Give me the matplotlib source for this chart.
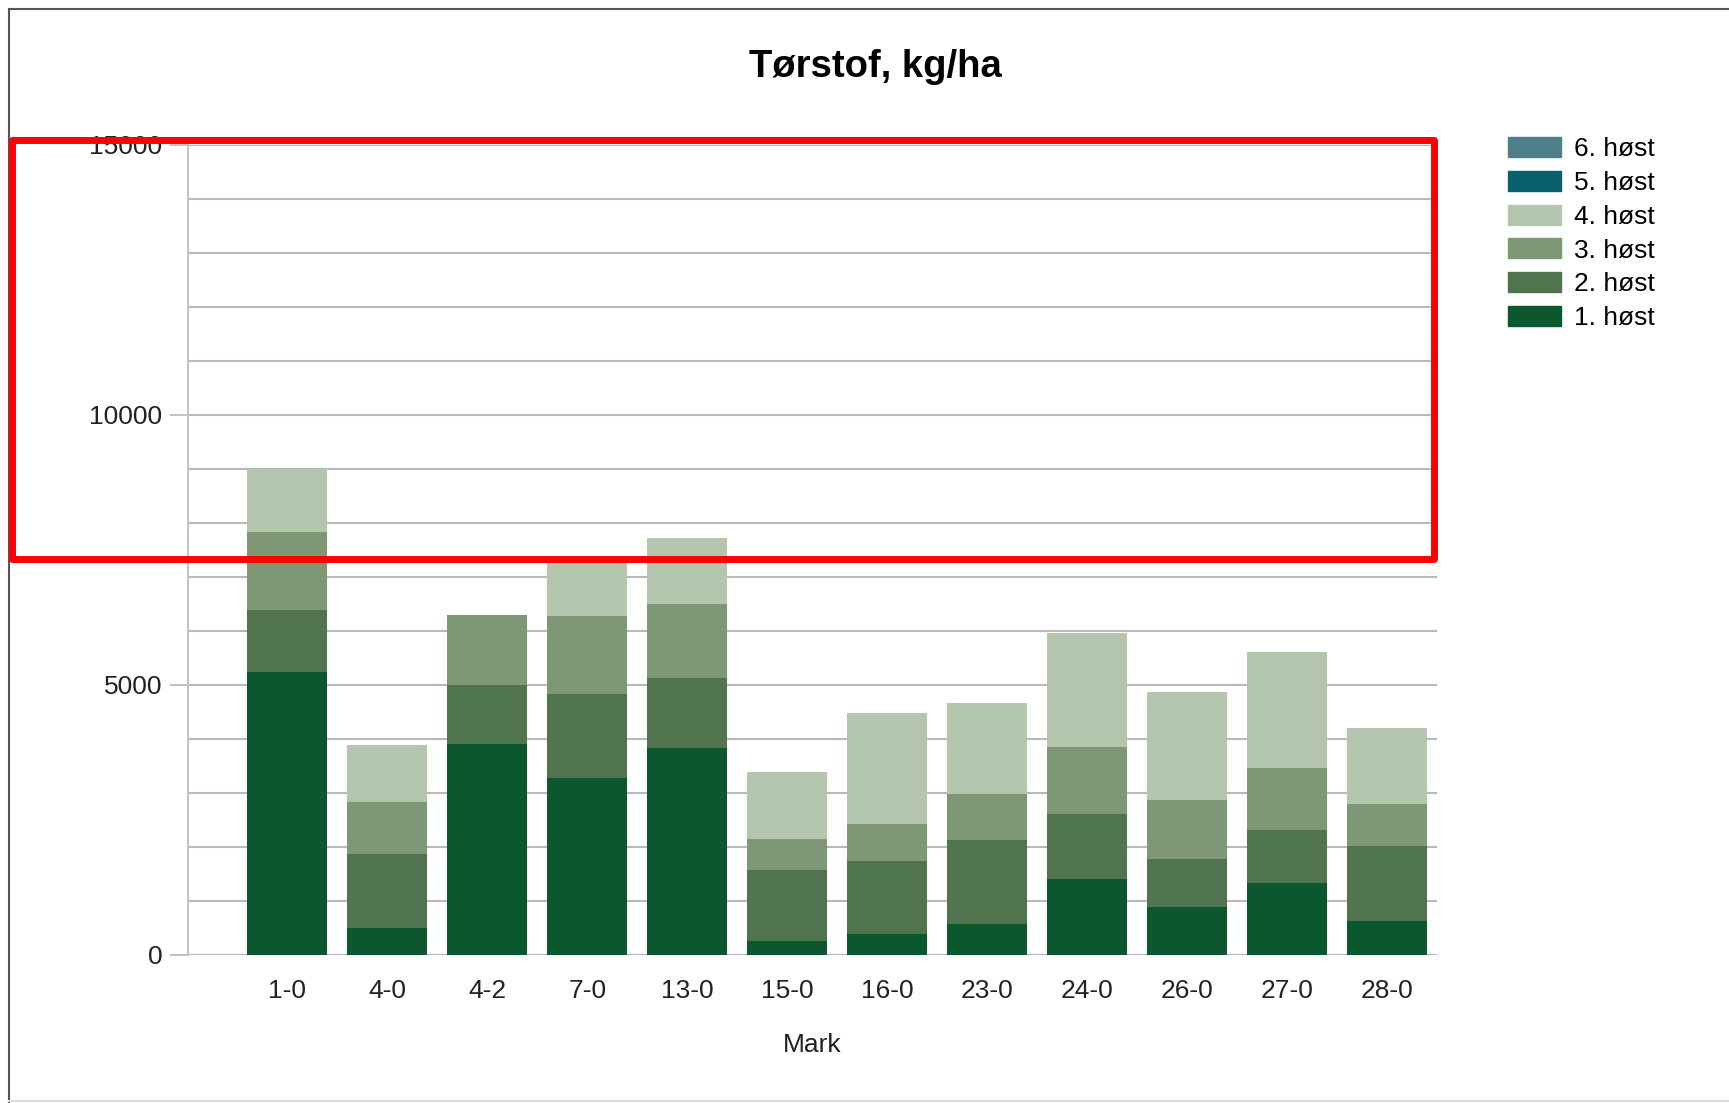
import matplotlib.pyplot as plt
from matplotlib.patches import Rectangle, Patch
from matplotlib.lines import Line2D

plt.rcParams['font.family'] = ['Liberation Sans', 'DejaVu Sans']

# Data (kg/ha per harvest)
marker = ['1-0', '4-0', '4-2', '7-0', '13-0', '15-0', '16-0', '23-0', '24-0', '26-0', '27-0', '28-0']
host1 = [5240, 500, 3905, 3280, 3830, 255, 390, 580, 1400, 880, 1340, 620]
host2 = [1140, 1365, 1100, 1550, 1305, 1325, 1345, 1550, 1215, 905, 980, 1400]
host3 = [1450, 970, 1295, 1440, 1355, 570, 685, 850, 1230, 1090, 1135, 775]
host4 = [1170, 1050, 0, 1060, 1230, 1240, 2050, 1690, 2115, 1995, 2145, 1410]
host5 = [0] * 12
host6 = [0] * 12

labels = ['1. høst', '2. høst', '3. høst', '4. høst', '5. høst', '6. høst']
colors = ['#0b572e', '#50754e', '#7e9876', '#b5c6af', '#0a616e', '#4e7f8b']
series = [host1, host2, host3, host4, host5, host6]

W, H = 1729, 1103
fig = plt.figure(figsize=(W / 100, H / 100), dpi=100)
ax = fig.add_axes([187.5 / W, 1 - 955 / H, (1437 - 187.5) / W, (955 - 144.5) / H])

x = list(range(len(marker)))
bottom = [0] * len(marker)
for vals, c, lab in zip(series, colors, labels):
    ax.bar(x, vals, 0.8, bottom=bottom, color=c, label=lab, zorder=2)
    bottom = [b + v for b, v in zip(bottom, vals)]

ax.set_xlim(-1, 11.5)
ax.set_ylim(0, 15000)
ax.set_yticks(range(0, 15001, 5000))
ax.set_yticks(range(0, 15001, 1000), minor=True)
ax.grid(which='both', axis='y', color='#b8b8b8', lw=1.5, zorder=0)
ax.set_axisbelow(True)
ax.tick_params(axis='y', which='major', length=13, width=1.2, color='#b8b8b8',
               pad=5, labelsize=19, labelcolor='#222222')
ax.tick_params(axis='y', which='minor', length=0)
ax.set_xticks(x)
ax.set_xticklabels(marker)
ax.tick_params(axis='x', length=0, pad=17, labelsize=19, labelcolor='#222222')
for s in ['top', 'right', 'bottom']:
    ax.spines[s].set_visible(False)
ax.spines['left'].set_color('#c4c4c4')
ax.spines['left'].set_linewidth(1.5)
ax.set_xlabel('Mark', fontsize=19, color='#222222', labelpad=22)

fig.text(875 / W, 1 - 67 / H, 'Tørstof, kg/ha', ha='center', va='center',
         fontsize=27.5, fontweight='bold')

handles = [Patch(color=c, label=l) for c, l in zip(colors, labels)][::-1]
fig.legend(handles=handles, loc='upper left', bbox_to_anchor=(1508 / W, 1 - 137 / H),
           frameon=False, fontsize=19, borderpad=0, borderaxespad=0,
           handlelength=2.0, handleheight=0.8, handletextpad=0.5, labelspacing=0.36)

# screenshot frame
fig.add_artist(Line2D([9 / W, 1], [1 - 9 / H] * 2, transform=fig.transFigure,
                      color='#555555', lw=1.5))
fig.add_artist(Line2D([9 / W] * 2, [1 - 9 / H, 0], transform=fig.transFigure,
                      color='#555555', lw=1.5))
fig.add_artist(Line2D([9 / W, 1], [1 - 1101 / H] * 2, transform=fig.transFigure,
                      color='#dddddd', lw=1.5))

# red highlight box
fig.add_artist(Rectangle((12 / W, 1 - 559 / H), (1434 - 12) / W, (559 - 140) / H,
                         transform=fig.transFigure, fill=False, ec='#ff0000',
                         lw=5, joinstyle='round', zorder=10))

fig.savefig('out.png', dpi=100)
